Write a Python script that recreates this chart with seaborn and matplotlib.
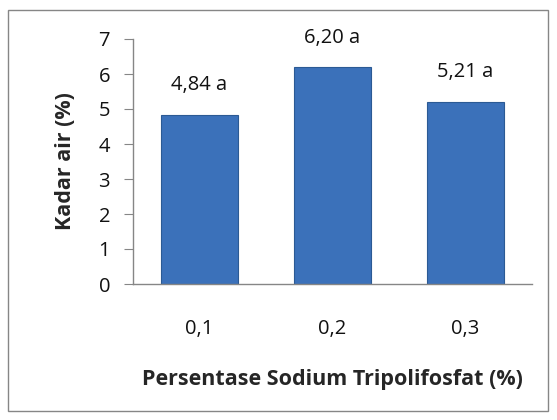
import matplotlib
matplotlib.use("Agg")
import matplotlib.pyplot as plt
import seaborn as sns
import pandas as pd
from matplotlib.patches import Rectangle

# data
categories = ["0,1", "0,2", "0,3"]
kadar_air = [4.84, 6.20, 5.21]
labels = ["4,84 a", "6,20 a", "5,21 a"]

sns.set_style("white")
plt.rcParams['font.family'] = ['Open Sans', 'DejaVu Sans']

fig = plt.figure(figsize=(5.57, 4.2), dpi=100)
ax = fig.add_axes([133/557, 1 - 284/420, 399/557, 245/420])

df = pd.DataFrame({"sptp": categories, "kadar": kadar_air})
sns.barplot(data=df, x="sptp", y="kadar", color="#3b71ba", width=0.58,
            edgecolor="#2b5a94", linewidth=0.8, saturation=1, ax=ax)

for bar, lab in zip(ax.patches, labels):
    ax.annotate(lab, (bar.get_x() + bar.get_width() / 2, bar.get_height()),
                xytext=(0, 14), textcoords="offset points",
                ha="center", va="bottom", fontsize=14.5, color="#111111",
                annotation_clip=False)

ax.set_ylim(0, 7)
ax.set_yticks(range(0, 8))
ax.tick_params(axis="y", length=6.5, width=0.8, color="#868686", labelsize=14.5,
               labelcolor="#111111", pad=10, left=True)
ax.tick_params(axis="x", length=0, labelsize=14.5, labelcolor="#111111", pad=25)
sns.despine(ax=ax)
for s in ["left", "bottom"]:
    ax.spines[s].set_color("#868686")
    ax.spines[s].set_linewidth(1.0)

ax.set_xlabel("Persentase Sodium Tripolifosfat (%)", fontsize=15.5, fontweight="bold", labelpad=22)
ax.set_ylabel("Kadar air (%)", fontsize=15.5, fontweight="bold", labelpad=16)

fig.patches.append(Rectangle((8/557, 9/420), 540/557, 401/420, transform=fig.transFigure,
                             fill=False, edgecolor="#868686", linewidth=1.0))

plt.savefig("out.png", dpi=100)
